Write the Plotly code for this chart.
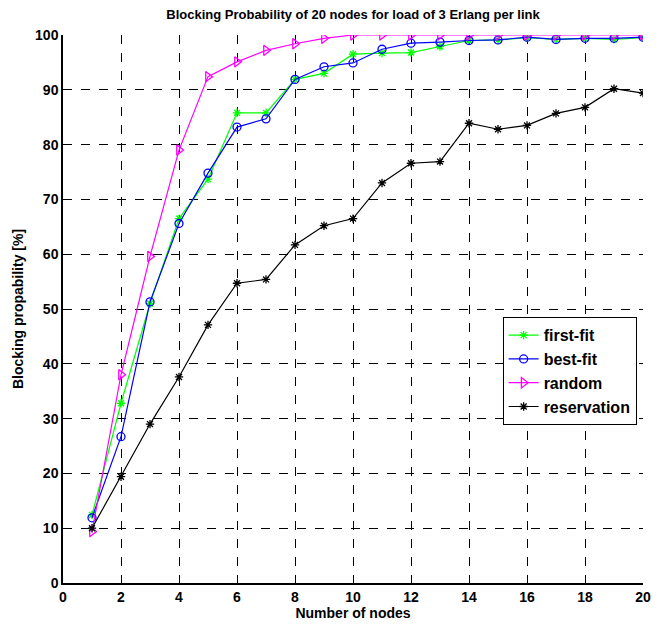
import plotly.graph_objects as go

nodes = list(range(1, 21))
first_fit = [12.4, 32.8, 51.0, 66.5, 73.7, 85.8, 85.8, 91.9, 93.0, 96.5,
             96.7, 96.8, 97.9, 99.0, 99.1, 99.5, 99.2, 99.4, 99.2, 99.5]
best_fit = [11.9, 26.7, 51.3, 65.6, 74.8, 83.2, 84.7, 91.9, 94.2, 94.9,
            97.4, 98.5, 98.7, 99.0, 99.1, 99.6, 99.2, 99.4, 99.4, 99.6]
random_ = [9.4, 38.0, 59.6, 79.0, 92.4, 95.1, 97.2, 98.4, 99.4, 100.0,
           100.0, 100.0, 100.0, 100.0, 100.0, 100.0, 100.0, 100.0, 100.0, 100.0]
reservation = [10.0, 19.4, 29.0, 37.6, 47.1, 54.7, 55.4, 61.7, 65.2, 66.5,
               73.0, 76.6, 76.9, 83.9, 82.8, 83.5, 85.7, 86.8, 90.2, 89.4]

x_ticks = list(range(0, 21, 2))
y_ticks = list(range(0, 101, 10))

FONT = "Liberation Sans Narrow, Arial Narrow, Liberation Sans, Arial"

series = [
    ("first-fit", first_fit, "#00FF00", "asterisk-open", 7),
    ("best-fit", best_fit, "#0000FF", "circle-open", 8),
    ("random", random_, "#FF00FF", "triangle-right-open", 9),
    ("reservation", reservation, "#000000", "asterisk-open", 7),
]

fig = go.Figure()
for name, vals, col, sym, sz in series:
    fig.add_trace(go.Scatter(
        x=nodes, y=vals, name=f"<b>{name}</b>", mode="lines+markers",
        line=dict(color=col, width=1.2),
        marker=dict(symbol=sym, size=sz, color=col, line=dict(color=col, width=1.3)),
    ))

fig.update_layout(
    width=663, height=630,
    paper_bgcolor="white", plot_bgcolor="white",
    margin=dict(l=63, r=17, t=35, b=47),
    font=dict(family=FONT, color="black", size=13),
    title=dict(text="<b>Blocking Probability of 20 nodes for load of 3 Erlang per link</b>",
               x=0.5, xref="paper", y=0.985, yanchor="top",
               font=dict(size=13, family=FONT)),
    legend=dict(x=0.758, y=0.485, xanchor="left", yanchor="top",
                bordercolor="black", borderwidth=1, bgcolor="white",
                font=dict(size=16, family=FONT), tracegroupgap=2),
    showlegend=True,
)
fig.update_xaxes(
    range=[0, 20], tickvals=x_ticks, ticktext=[f"<b>{v}</b>" for v in x_ticks],
    showgrid=True, gridcolor="black", griddash="dash", gridwidth=1,
    showline=True, linecolor="black", linewidth=1.5, mirror=False,
    ticks="inside", ticklen=4, tickcolor="black", zeroline=False,
    tickfont=dict(size=14, family=FONT),
    title=dict(text="<b>Number of nodes</b>", font=dict(size=14, family=FONT), standoff=4),
)
fig.update_yaxes(
    range=[0, 100], tickvals=y_ticks, ticktext=[f"<b>{v}</b>" for v in y_ticks],
    showgrid=True, gridcolor="black", griddash="dash", gridwidth=1,
    showline=True, linecolor="black", linewidth=1.5, mirror=False,
    ticks="inside", ticklen=4, tickcolor="black", zeroline=False,
    tickfont=dict(size=14, family=FONT),
    title=dict(text="<b>Blocking propability [%]</b>", font=dict(size=14, family=FONT), standoff=8),
)

fig.write_html("out.html")
